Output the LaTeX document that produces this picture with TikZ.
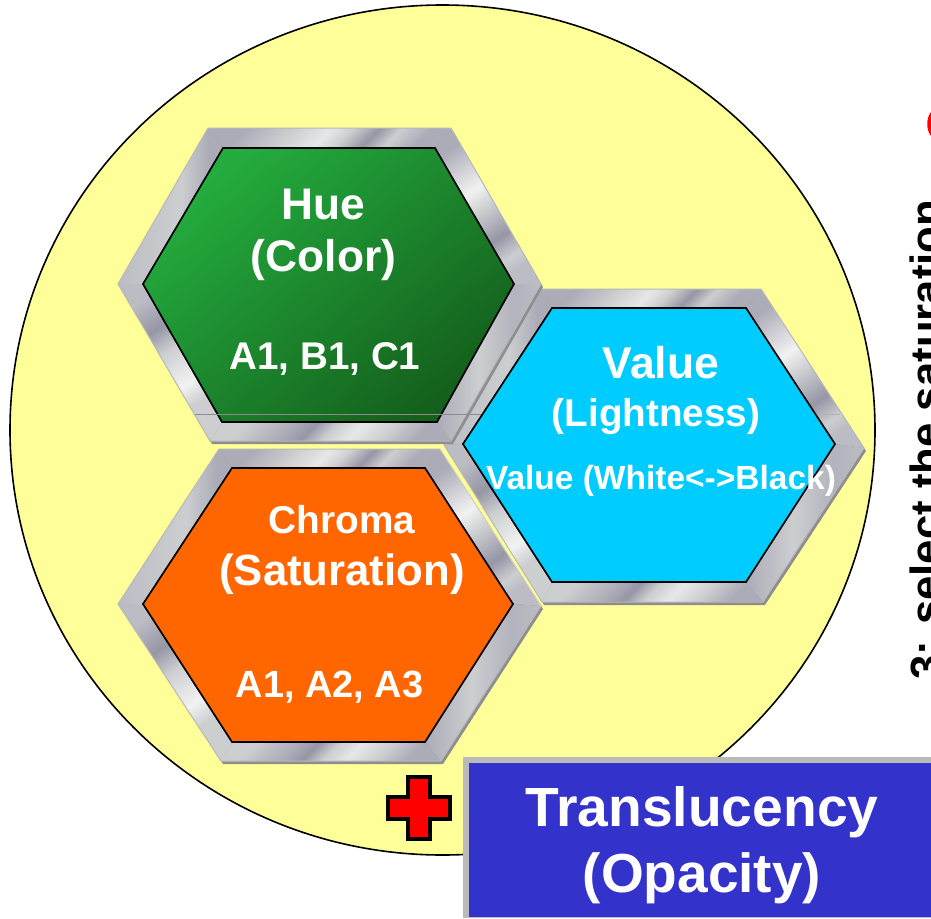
\documentclass[tikz,border=0pt]{standalone}
\usepackage{fontspec}
\setmainfont{Liberation Sans}
\definecolor{discyellow}{HTML}{FFFF99}
\definecolor{metaldk}{HTML}{9696A6}
\definecolor{metalmd}{HTML}{ACACB8}
\definecolor{metallt}{HTML}{CCCED0}
\definecolor{metaltip}{HTML}{BCBDC4}
\definecolor{metalwh}{HTML}{F2F2F2}
\definecolor{rimgray}{HTML}{8E8E8E}
\definecolor{oneblue}{HTML}{3333CC}
% one shading per side of the frame, only 25bp to 75bp is seen
\pgfdeclarehorizontalshading{metaltop}{100bp}{color(0bp)=(metalmd); color(25bp)=(metalmd); color(38bp)=(metallt); color(48bp)=(metalwh!70!metallt); color(54bp)=(metallt); color(61bp)=(metaldk); color(67bp)=(metallt); color(75bp)=(metalmd); color(100bp)=(metalmd)}
\pgfdeclarehorizontalshading{metalur}{100bp}{color(0bp)=(metalmd); color(25bp)=(metalmd); color(42bp)=(metalwh); color(50bp)=(metallt); color(62bp)=(metaldk); color(70bp)=(metallt); color(75bp)=(metaltip); color(100bp)=(metaltip)}
\pgfdeclarehorizontalshading{metallr}{100bp}{color(0bp)=(metalmd); color(25bp)=(metalmd); color(45bp)=(metallt); color(62bp)=(metalmd!80!metallt); color(75bp)=(metaltip); color(100bp)=(metaltip)}
\pgfdeclarehorizontalshading{metalbt}{100bp}{color(0bp)=(metallt); color(25bp)=(metallt); color(38bp)=(metalmd); color(44bp)=(metaldk); color(50bp)=(metallt); color(57bp)=(metalwh!70!metallt); color(66bp)=(metallt); color(75bp)=(metalmd); color(100bp)=(metalmd)}
\pgfdeclarehorizontalshading{metalll}{100bp}{color(0bp)=(metaltip); color(25bp)=(metaltip); color(37bp)=(metaldk); color(46bp)=(metallt); color(60bp)=(metalwh); color(68bp)=(metallt); color(75bp)=(metallt); color(100bp)=(metallt)}
\pgfdeclarehorizontalshading{metalul}{100bp}{color(0bp)=(metaltip); color(25bp)=(metaltip); color(55bp)=(metallt); color(68bp)=(metalmd); color(75bp)=(metalmd); color(100bp)=(metalmd)}
% frame of a hexagon: outer points <name>o1..6, inner points <name>i1..6
\newcommand{\metalframe}[1]{%
  \fill[rimgray] ([shift={(2,3)}]#1o1) -- ([shift={(2,3)}]#1o2) -- ([shift={(2,3)}]#1o3) -- ([shift={(2,3)}]#1o4) -- ([shift={(2,3)}]#1o5) -- ([shift={(2,3)}]#1o6) -- cycle;
  \foreach \i/\j/\ang/\shd in {1/2/-45/metaltop, 2/3/-55/metalur, 3/4/0/metallr, 4/5/-45/metalbt, 5/6/-55/metalll, 6/1/0/metalul} {
    \shade[shading=\shd, shading angle=\ang] (#1o\i) -- (#1o\j) -- (#1i\j) -- (#1i\i) -- cycle;
  }
  \draw[rimlight] (#1o1) -- (#1o2) -- (#1o3) -- (#1o4) -- (#1o5) -- (#1o6) -- cycle;
}
\tikzset{
  rimlight/.style={draw=black!28, line width=1},
  hexface/.style={draw=black, line width=1.7, line join=miter},
  hexlabel/.style={text=white, anchor=base, inner sep=0},
  fsize/.style={font=\fontsize{#1}{#1}\selectfont\bfseries},
}
\begin{document}
\begin{tikzpicture}[x=1pt, y=-1pt]
    \useasboundingbox (0,0) rectangle (931,918);
    \fill[white] (0,0) rectangle (931,918);
    % Disc
    \draw[fill=discyellow, line width=1.6] (442.5,430) ellipse [x radius=432.5, y radius=425];
    % Value
    \coordinate (valo1) at (542,289); \coordinate (valo2) at (761,289); \coordinate (valo3) at (864,448);
    \coordinate (valo4) at (763,602); \coordinate (valo5) at (542,602); \coordinate (valo6) at (444,445);
    \coordinate (vali1) at (552,308); \coordinate (vali2) at (746,308); \coordinate (vali3) at (835,444);
    \coordinate (vali4) at (746,582); \coordinate (vali5) at (552,582); \coordinate (vali6) at (463,444);
    \metalframe{val}
    \draw[hexface, fill={rgb,255:red,0;green,204;blue,255}] (vali1) -- (vali2) -- (vali3) -- (vali4) -- (vali5) -- (vali6) -- cycle;
    % Hue
    \coordinate (hueo1) at (208,128); \coordinate (hueo2) at (451,128); \coordinate (hueo3) at (541,284);
    \coordinate (hueo4) at (451,441); \coordinate (hueo5) at (210,441); \coordinate (hueo6) at (118,284);
    \coordinate (huei1) at (223,148); \coordinate (huei2) at (435,148); \coordinate (huei3) at (514,284);
    \coordinate (huei4) at (437,422); \coordinate (huei5) at (222,422); \coordinate (huei6) at (143,284);
    \metalframe{hue}
    \draw[hexface, left color={rgb,255:red,36;green,172;blue,62}, right color={rgb,255:red,20;green,96;blue,28}, shading angle=40] (huei1) -- (huei2) -- (huei3) -- (huei4) -- (huei5) -- (huei6) -- cycle;
    \draw[black!45, line width=0.7] (195,414) -- (481,414);
    \draw[black!30, line width=0.7] (817,414) -- (840,414);
    % Chroma
    \coordinate (chro1) at (219,449); \coordinate (chro2) at (440,449); \coordinate (chro3) at (541,606);
    \coordinate (chro4) at (441,761); \coordinate (chro5) at (221,761); \coordinate (chro6) at (118,604);
    \coordinate (chri1) at (232,468); \coordinate (chri2) at (425,468); \coordinate (chri3) at (513,604);
    \coordinate (chri4) at (425,742); \coordinate (chri5) at (232,742); \coordinate (chri6) at (143,604);
    \metalframe{chr}
    \draw[hexface, fill={rgb,255:red,255;green,102;blue,0}] (chri1) -- (chri2) -- (chri3) -- (chri4) -- (chri5) -- (chri6) -- cycle;
    \draw[discyellow!70!black!30, line width=0.4] (chro2) -- (chro3);
    % Labels
    \node[hexlabel, fsize=44.3] (huetitle) at (323,219) {Hue};
    \node[hexlabel, fsize=44.3] (huesub) at (323.5,271) {(Color)};
    \node[hexlabel, fsize=38.6] (huekeys) at (325,369) {A1, B1, C1};
    \node[hexlabel, fsize=44.5] (valtitle) at (661,378) {Value};
    \node[hexlabel, fsize=38.7] (valsub) at (656,426) {(Lightness)};
    \node[hexlabel, fsize=33.5] (valkeys) at (661,489) {Value (White<->Black)};
    \node[hexlabel, fsize=38.8] (chrtitle) at (342,533) {Chroma};
    \node[hexlabel, fsize=43.7] (chrsub) at (342,585) {(Saturation)};
    \node[hexlabel, fsize=37.9] (chrkeys) at (329.5,697) {A1, A2, A3};
    % Cross and opacity box
    \draw[fill=red, line width=4, line join=miter] (408,777) -- (430,777) -- (430,797) -- (450,797) -- (450,819) -- (430,819) -- (430,839) -- (408,839) -- (408,819) -- (388,819) -- (388,797) -- (408,797) -- cycle;
    \fill[black!27] (463,757) rectangle (931,918);
    \fill[oneblue] (469,763) rectangle (931,917);
    \node[hexlabel, fsize=55.2] (optitle) at (702,826) {Translucency};
    \node[hexlabel, fsize=55] (opsub) at (702,892) {(Opacity)};
    % Cut off at the right edge
    \node[anchor=base west, inner sep=0, rotate=90, fsize=43.7] (steplabel) at (941.5,680) {3: select the saturation};
    \fill[red] (931,112) .. controls (926,118) and (926,130) .. (931,136) -- cycle;
\end{tikzpicture}
\end{document}
